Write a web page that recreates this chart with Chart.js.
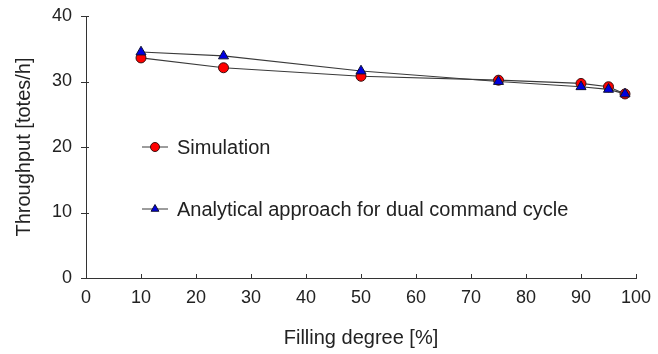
<!DOCTYPE html>
<html>
<head>
<meta charset="utf-8">
<script src="https://cdn.jsdelivr.net/npm/chart.js@4"></script>
<style>
  html, body { margin: 0; padding: 0; background: #fff; }
  #wrap { width: 658px; height: 354px; }
</style>
</head>
<body>
<div id="wrap"><canvas id="c" width="658" height="354"></canvas></div>
<script>
// Filling degree [%] at which throughput was evaluated
const fillingDegree = [10, 25, 50, 75, 90, 95, 98];
// Throughput [totes/h]
const simulation = [33.6, 32.1, 30.8, 30.2, 29.7, 29.2, 28.1];
const analytical = [34.5, 33.9, 31.6, 30.0, 29.2, 28.8, 28.1];
const xTicks = [0, 10, 20, 30, 40, 50, 60, 70, 80, 90, 100];
const yTicks = [0, 10, 20, 30, 40];
const seriesLabels = ['Simulation', 'Analytical approach for dual command cycle'];

const FONT = "'Liberation Sans', Arial, sans-serif";
const INK = '#222';
const AXIS = '#333';

const toPoints = (ys) => fillingDegree.map((x, i) => ({ x, y: ys[i] }));

// Short tick marks: inward on the x axis, crossing the axis on the y axis
const tickMarks = {
  id: 'tickMarks',
  afterDraw(chart) {
    const { ctx, scales: { x, y } } = chart;
    ctx.save();
    ctx.strokeStyle = AXIS;
    ctx.lineWidth = 1;
    ctx.beginPath();
    const x0 = x.left, yb = y.bottom;
    for (const v of xTicks) {
      const px = Math.round(x.getPixelForValue(v)) + 0.5;
      ctx.moveTo(px, yb);
      ctx.lineTo(px, yb - 4);
    }
    for (const v of yTicks) {
      const py = Math.round(y.getPixelForValue(v)) + 0.5;
      ctx.moveTo(x0 - 5, py);
      ctx.lineTo(x0 + 3, py);
    }
    ctx.stroke();
    ctx.restore();
  }
};

// Legend drawn inside the plot area, one entry per row
const innerLegend = {
  id: 'innerLegend',
  afterDraw(chart) {
    const { ctx, chartArea } = chart;
    const left = chartArea.left + 56;
    const rows = [chartArea.top + 131, chartArea.top + 193];
    ctx.save();
    chart.data.datasets.forEach((ds, i) => {
      const yy = rows[i];
      ctx.strokeStyle = ds.borderColor;
      ctx.lineWidth = 1;
      ctx.beginPath();
      ctx.moveTo(left, yy);
      ctx.lineTo(left + 26, yy);
      ctx.stroke();
      ctx.fillStyle = ds.pointBackgroundColor;
      ctx.strokeStyle = ds.pointBorderColor;
      ctx.lineWidth = 1;
      Chart.helpers.drawPoint(ctx, {
        pointStyle: ds.pointStyle,
        radius: 4.5,
        borderWidth: 1,
        rotation: 0
      }, left + 13, yy);
      ctx.fillStyle = INK;
      ctx.font = "20px " + FONT;
      ctx.textBaseline = 'middle';
      ctx.textAlign = 'left';
      ctx.fillText(ds.label, left + 35, yy + 1);
    });
    ctx.restore();
  }
};

new Chart(document.getElementById('c'), {
  type: 'line',
  data: {
    datasets: [
      {
        label: seriesLabels[0],
        data: toPoints(simulation),
        borderColor: '#3a3a3a',
        borderWidth: 1.2,
        pointStyle: 'circle',
        pointRadius: 5,
        pointBackgroundColor: '#ff0000',
        pointBorderColor: '#3a1010',
        pointBorderWidth: 1,
        tension: 0,
        order: 1
      },
      {
        label: seriesLabels[1],
        data: toPoints(analytical),
        borderColor: '#3a3a3a',
        borderWidth: 1.2,
        pointStyle: 'triangle',
        pointRadius: 5.8,
        pointBackgroundColor: '#0000e0',
        pointBorderColor: '#101030',
        pointBorderWidth: 1,
        tension: 0,
        order: 0
      }
    ]
  },
  options: {
    responsive: false,
    animation: false,
    layout: { padding: { left: 0, right: 22, top: 16, bottom: 0 } },
    plugins: {
      legend: { display: false },
      tooltip: { enabled: false }
    },
    scales: {
      x: {
        type: 'linear',
        min: 0,
        max: 100,
        afterBuildTicks: (s) => { s.ticks = xTicks.map(v => ({ value: v })); },
        afterFit: (s) => { s.height = 76; s.paddingLeft = 0; s.paddingRight = 0; },
        grid: { display: true, drawOnChartArea: false, drawTicks: false, tickLength: 0 },
        border: { display: true, color: AXIS, width: 1 },
        ticks: { color: INK, font: { family: FONT, size: 18 }, padding: 9, maxRotation: 0 },
        title: {
          display: true,
          text: 'Filling degree [%]',
          color: INK,
          font: { family: FONT, size: 20 },
          padding: { top: 0, bottom: 4 }
        }
      },
      y: {
        type: 'linear',
        min: 0,
        max: 40,
        afterBuildTicks: (s) => { s.ticks = yTicks.map(v => ({ value: v })); },
        afterFit: (s) => { s.width = 86; s.paddingTop = 0; s.paddingBottom = 0; },
        grid: { display: true, drawOnChartArea: false, drawTicks: false, tickLength: 0 },
        border: { display: true, color: AXIS, width: 1 },
        ticks: { color: INK, font: { family: FONT, size: 18 }, padding: 14 },
        title: {
          display: true,
          text: 'Throughput [totes/h]',
          color: INK,
          font: { family: FONT, size: 20 },
          padding: { top: 12, bottom: 0 }
        }
      }
    }
  },
  plugins: [tickMarks, innerLegend]
});
</script>
</body>
</html>
